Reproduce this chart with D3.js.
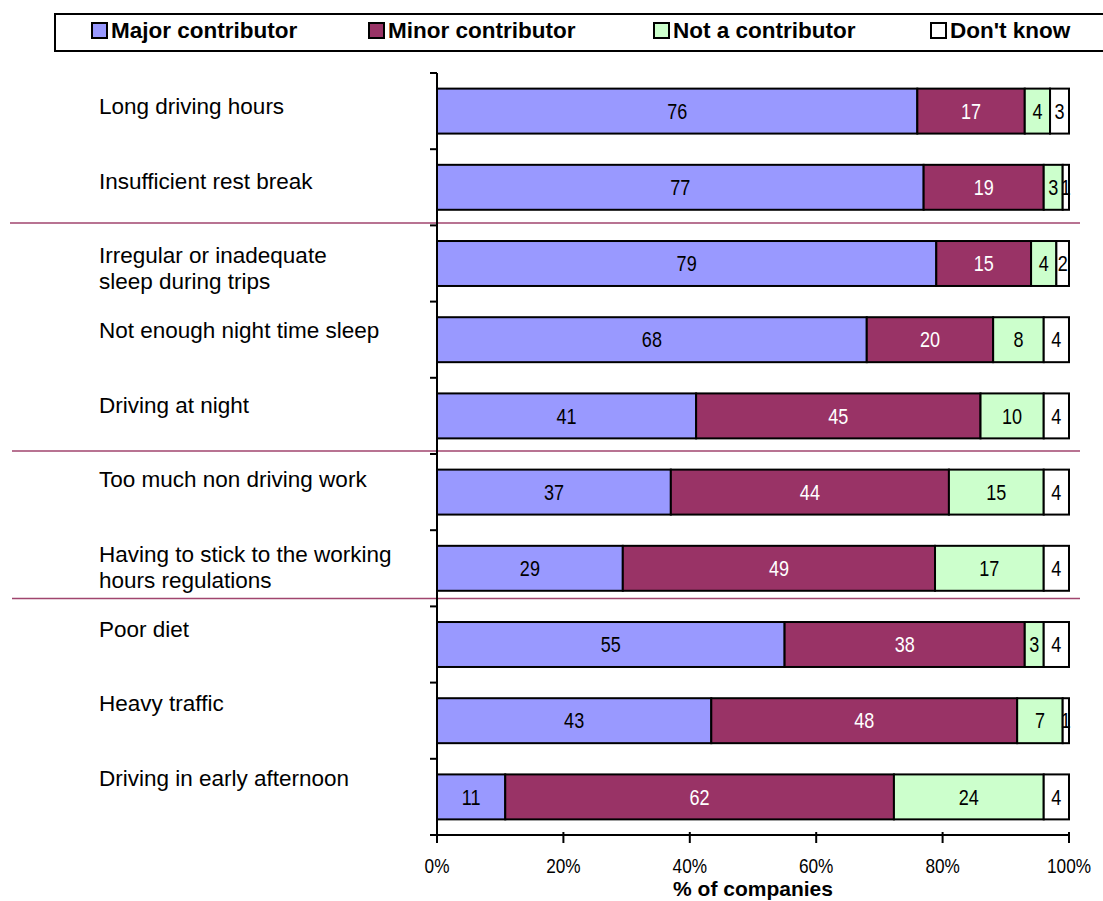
<!DOCTYPE html>
<html><head><meta charset="utf-8">
<script src="https://cdn.jsdelivr.net/npm/d3@7"></script>
<style>body{margin:0;background:#fff}svg{display:block}</style>
</head><body>
<script>
const categories = [
  ["Long driving hours"],
  ["Insufficient rest break"],
  ["Irregular or inadequate", "sleep during trips"],
  ["Not enough night time sleep"],
  ["Driving at night"],
  ["Too much non driving work"],
  ["Having to stick to the working", "hours regulations"],
  ["Poor diet"],
  ["Heavy traffic"],
  ["Driving in early afternoon"]
];
const seriesNames = ["Major contributor", "Minor contributor", "Not a contributor", "Don't know"];
const major = [76, 77, 79, 68, 41, 37, 29.4, 55, 43.4, 10.8];
const minor = [17, 19, 15, 20, 45, 44, 49.4, 38, 48.4, 61.5];
const notContrib = [4, 3, 4, 8, 10, 15, 17.2, 3, 7.2, 23.7];
const dontKnow = [3, 1, 2, 4, 4, 4, 4, 4, 1, 4];
const xTicks = [0, 20, 40, 60, 80, 100];
const colors = ["#9999ff", "#993366", "#ccffcc", "#ffffff"];
const labelColors = ["#000", "#fff", "#000", "#000"];

const W = 1103, H = 901;
const SANS = "'Liberation Sans',Arial,sans-serif";
const svg = d3.select("body").append("svg").attr("width", W).attr("height", H);

const x = d3.scaleLinear().domain([0, 100]).range([437, 1069]);
const keys = categories.map(c => c.join(" "));
const y = d3.scaleBand().domain(keys).range([73, 835]).paddingInner(0.41).paddingOuter(0.205);
const step = y.step();

const series = [major, minor, notContrib, dontKnow];
const stackData = keys.map((k, i) => { const o = {key: k}; seriesNames.forEach((n, j) => o[n] = series[j][i]); return o; });
const stacked = d3.stack().keys(seriesNames)(stackData);

// narrow text helper (Arial Narrow ~ Arial scaled 82% horizontally)
function narrow(sel, tx, ty, txt, size, fill) {
  sel.append("text").attr("transform", `translate(${tx},${ty}) scale(0.82,1)`)
    .attr("dy", "0.35em").attr("text-anchor", "middle")
    .attr("font-family", SANS).attr("font-size", size).attr("fill", fill).text(txt);
}

// separators
const bnd = i => 73 + step * i;
[[2, -2.5, 10], [5, -3, 12], [7, -8, 12]].forEach(([i, off, x0]) => {
  svg.append("line").attr("x1", x0).attr("x2", 1080).attr("y1", bnd(i) + off).attr("y2", bnd(i) + off)
    .attr("stroke", "#a0456e").attr("stroke-width", 1.5);
});

// bars
stacked.forEach((layer, j) => {
  const g = svg.append("g");
  g.selectAll("rect").data(layer).join("rect")
    .attr("x", d => x(d[0])).attr("width", d => x(d[1]) - x(d[0]))
    .attr("y", d => y(d.data.key)).attr("height", y.bandwidth())
    .attr("fill", colors[j]).attr("stroke", "#000").attr("stroke-width", 2);
  layer.forEach(d => {
    narrow(g, (x(d[0]) + x(d[1])) / 2, y(d.data.key) + y.bandwidth() / 2, Math.round(d[1] - d[0]), 22, labelColors[j]);
  });
});

// y axis
svg.append("line").attr("x1", 437).attr("x2", 437).attr("y1", 73).attr("y2", 835).attr("stroke", "#000").attr("stroke-width", 2);
d3.range(keys.length + 1).forEach(i => {
  svg.append("line").attr("x1", 430).attr("x2", 437).attr("y1", bnd(i)).attr("y2", bnd(i)).attr("stroke", "#000").attr("stroke-width", 2);
});

// category labels
categories.forEach((lines, i) => {
  const cy = y(keys[i]) + y.bandwidth() / 2 - 5 - 1.55 * i;
  const t = svg.append("text").attr("font-family", SANS).attr("font-size", 22.5).attr("fill", "#000");
  lines.forEach((ln, k) => t.append("tspan").attr("x", 99).attr("y", cy + k * 26).attr("dy", "0.35em").text(ln));
});

// x axis
svg.append("line").attr("x1", 437).attr("x2", 1069).attr("y1", 835).attr("y2", 835).attr("stroke", "#000").attr("stroke-width", 2);
xTicks.forEach(v => {
  svg.append("line").attr("x1", x(v)).attr("x2", x(v)).attr("y1", 832).attr("y2", 843).attr("stroke", "#000").attr("stroke-width", 2);
  narrow(svg, x(v), 865.5, v + "%", 21, "#000");
});
svg.append("text").attr("x", 753).attr("y", 889).attr("dy", "0.35em").attr("text-anchor", "middle")
  .attr("font-family", SANS).attr("font-weight", "bold").attr("font-size", 21)
  .text("% of companies");

// legend
svg.append("rect").attr("x", 55).attr("y", 14).attr("width", 1060).attr("height", 37).attr("fill", "#fff").attr("stroke", "#000").attr("stroke-width", 2);
const legX = [92, 369, 654, 931];
seriesNames.forEach((n, j) => {
  svg.append("rect").attr("x", legX[j]).attr("y", 23).attr("width", 15).attr("height", 15).attr("fill", colors[j]).attr("stroke", "#000").attr("stroke-width", 2);
  svg.append("text").attr("x", legX[j] + 19).attr("y", 30.5).attr("dy", "0.35em")
    .attr("font-family", SANS).attr("font-weight", "bold").attr("font-size", 22.5).text(n);
});
</script>
</body></html>
